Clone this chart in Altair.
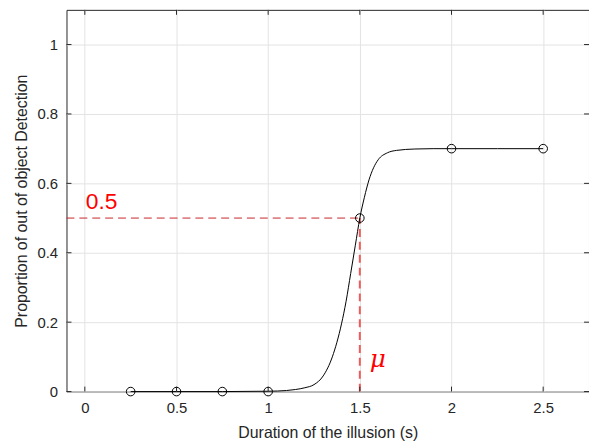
import altair as alt
import pandas as pd

# Observed data points
dur = [0.25, 0.5, 0.75, 1.0, 1.5, 2.0, 2.5]
prop = [0, 0, 0, 0, 0.5, 0.7, 0.7]

# Fitted psychometric curve
fit_x = [0.25, 0.5, 0.75, 1.0, 1.1, 1.15, 1.2, 1.25, 1.3, 1.35, 1.4, 1.425, 1.45,
         1.475, 1.5, 1.525, 1.55, 1.575, 1.6, 1.65, 1.7, 1.8, 1.9, 2.0, 2.25, 2.5]
fit_y = [0, 0, 0, 0.001, 0.003, 0.006, 0.011, 0.02, 0.045, 0.1, 0.195, 0.26, 0.34,
         0.42, 0.5, 0.56, 0.61, 0.645, 0.668, 0.688, 0.695, 0.699, 0.7, 0.7, 0.7, 0.7]

x_ticks = [0, 0.5, 1, 1.5, 2, 2.5]
y_ticks = [0, 0.2, 0.4, 0.6, 0.8, 1]
mu = 1.5
half = 0.5
x_min, x_max = -0.1, 2.75
y_min, y_max = 0, 1.1

W, H = 527, 385
FONT = "Liberation Sans"
AX = "#262626"

pts = pd.DataFrame({"x": dur, "y": prop})
fit = pd.DataFrame({"x": fit_x, "y": fit_y})
hline = pd.DataFrame({"x": [x_min], "x2": [mu], "y": [half]})
vline = pd.DataFrame({"x": [mu], "y": [y_min], "y2": [half]})
xt = pd.DataFrame({"x": x_ticks})
yt = pd.DataFrame({"y": y_ticks})

xs = alt.Scale(domain=[x_min, x_max], nice=False, zero=False)
ys = alt.Scale(domain=[y_min, y_max], nice=False, zero=False)

XT = "Duration of the illusion (s)"
YT = "Proportion of out of object Detection"
xaxis = alt.Axis(values=x_ticks, format="~g", title=XT,
                 grid=True, labelPadding=9, titlePadding=9)
yaxis = alt.Axis(values=y_ticks, format="~g", title=YT,
                 grid=True, labelPadding=9, titleX=-45, titleY=H / 2,
                 titleAngle=-90, titleBaseline="middle", titleAlign="center")


def X(f="x"):
    return alt.X(f"{f}:Q", scale=xs, axis=xaxis, title=XT)


def Y(f="y"):
    return alt.Y(f"{f}:Q", scale=ys, axis=yaxis, title=YT)


points = alt.Chart(pts).mark_point(shape="circle", filled=False, size=75,
                                   color="black", strokeWidth=1, opacity=1).encode(x=X(), y=Y())

curve = alt.Chart(fit).mark_line(color="black", strokeWidth=1, interpolate="monotone").encode(
    x=X(), y=Y())

h = alt.Chart(hline).mark_rule(color="#c8262b", strokeWidth=1, strokeDash=[8, 5]).encode(
    x=X(), x2="x2:Q", y=Y())
v = alt.Chart(vline).mark_rule(color="#f05a5a", strokeWidth=2, strokeDash=[8, 5]).encode(
    x=X(), y=Y(), y2="y2:Q")

lab_half = alt.Chart(pd.DataFrame({"x": [0], "y": [half], "t": ["0.5"]})).mark_text(
    color="red", fontSize=23, font=FONT, align="left", baseline="alphabetic", dx=1, dy=-9
).encode(x=X(), y=Y(), text="t:N")

lab_mu = alt.Chart(pd.DataFrame({"x": [mu], "y": [y_min], "t": ["μ"]})).mark_text(
    color="red", fontSize=25, font="DejaVu Serif", fontStyle="italic", align="left",
    baseline="alphabetic", dx=10, dy=-25
).encode(x=X(), y=Y(), text="t:N")

# inner tick marks (MATLAB style)
tb = alt.Chart(xt).mark_rule(color=AX, strokeWidth=1).encode(
    x=X(), y=alt.value(H), y2=alt.value(H - 5))
tt = alt.Chart(xt).mark_rule(color=AX, strokeWidth=1).encode(
    x=X(), y=alt.value(0), y2=alt.value(5))
tl = alt.Chart(yt).mark_rule(color=AX, strokeWidth=1).encode(
    y=Y(), x=alt.value(0), x2=alt.value(5))
tr = alt.Chart(yt).mark_rule(color=AX, strokeWidth=1).encode(
    y=Y(), x=alt.value(W), x2=alt.value(W - 5))

chart = alt.layer(h, v, curve, points, lab_half, lab_mu, tb, tt, tl, tr).properties(
    width=W, height=H,
    autosize=alt.AutoSizeParams(type="none"),
    padding={"left": 59, "top": 0, "right": 0, "bottom": 50},
).configure_view(
    stroke=AX, strokeWidth=1
).configure_axis(
    domain=False, ticks=False, labelFont=FONT, titleFont=FONT, labelColor=AX,
    titleColor=AX, labelFontSize=15, titleFontSize=16, titleFontWeight="normal",
    gridColor="#e3e3e3", gridWidth=1
)

chart.save("out.html", embed_options={"renderer": "svg", "actions": False})
